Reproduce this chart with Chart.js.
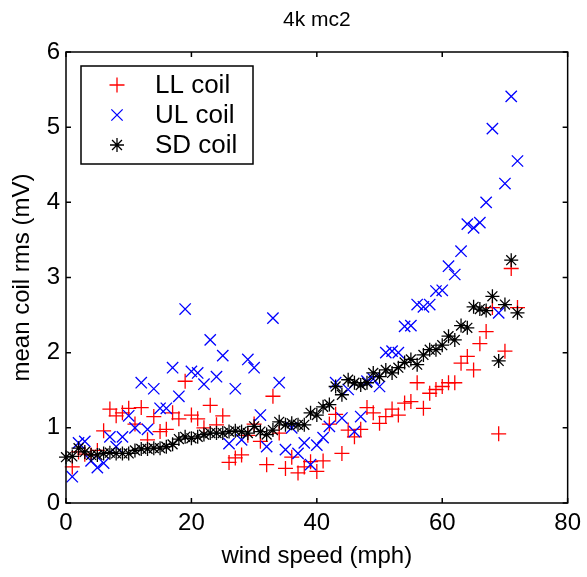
<!DOCTYPE html>
<html>
<head>
<meta charset="utf-8">
<script src="https://cdn.jsdelivr.net/npm/chart.js@4.4.1/dist/chart.umd.min.js"></script>
<style>
  html, body { margin: 0; padding: 0; background: #fff; }
  #wrap { width: 587px; height: 577px; }
</style>
</head>
<body>
<div id="wrap"><canvas id="coilChart" width="587" height="577"></canvas></div>
<script>
// wind speed bins (mph)
const speedsSD = Array.from({ length: 73 }, (_, i) => i);       // 0 .. 72
const speedsCoil = Array.from({ length: 72 }, (_, i) => i + 1); // 1 .. 72

// mean coil rms (mV)
const llCoil = [0.48, 0.68, 0.65, 0.64, 0.70, 0.96, 1.25, 1.16, 1.20, 1.26,
                1.05, 1.27, 0.84, 1.15, 0.95, 0.98, 1.20, 1.12, 1.62, 1.17,
                1.12, 1.00, 1.30, 1.04, 1.16, 0.54, 0.60, 0.64, 0.90, 1.05,
                0.82, 0.51, 1.42, 0.93, 0.46, 0.61, 0.40, 0.48, 0.55, 0.42,
                0.56, 1.05, 1.18, 0.66, 0.97, 0.88, 0.98, 1.27, 1.20, 1.06,
                1.15, 1.25, 1.17, 1.33, 1.35, 1.60, 1.26, 1.46, 1.51, 1.55,
                1.60, 1.60, 1.86, 1.95, 1.77, 2.12, 2.28, 2.60, 0.92, 2.02,
                3.12, 2.60];
const ulCoil = [0.35, 0.80, 0.82, 0.56, 0.47, 0.53, 0.88, 0.75, 0.88, 1.16,
                1.00, 1.60, 0.98, 1.52, 1.26, 1.26, 1.80, 1.42, 2.58, 1.75,
                1.73, 1.58, 2.17, 1.68, 1.96, 0.79, 1.52, 0.84, 1.91, 1.80,
                1.17, 0.75, 2.46, 1.60, 0.71, 1.00, 0.66, 0.80, 0.51, 0.77,
                0.87, 1.02, 1.60, 1.13, 1.51, 0.95, 1.15, 1.62, 1.65, 1.55,
                2.00, 2.02, 2.00, 2.35, 2.36, 2.64, 2.61, 2.64, 2.82, 2.83,
                3.15, 3.04, 3.35, 3.71, 3.66, 3.73, 4.00, 4.98, 2.53, 4.25,
                5.41, 4.55];
const sdCoil = [0.61, 0.62, 0.73, 0.68, 0.64, 0.64, 0.66, 0.67, 0.66, 0.66,
                0.66, 0.70, 0.72, 0.72, 0.73, 0.73, 0.75, 0.78, 0.85, 0.88,
                0.86, 0.88, 0.91, 0.93, 0.93, 0.93, 0.95, 0.96, 0.95, 0.93,
                1.02, 0.95, 0.91, 0.97, 1.08, 1.04, 1.06, 1.04, 1.04, 1.20,
                1.17, 1.28, 1.31, 1.55, 1.44, 1.64, 1.60, 1.57, 1.60, 1.73,
                1.68, 1.77, 1.73, 1.80, 1.87, 1.91, 1.84, 1.97, 2.04, 2.04,
                2.10, 2.22, 2.17, 2.36, 2.33, 2.61, 2.58, 2.56, 2.75, 1.89,
                2.64, 3.23, 2.53];

const xTicks = [0, 20, 40, 60, 80];
const yTicks = [0, 1, 2, 3, 4, 5, 6];
const chartTitle = '4k mc2';

const FONT = "'Liberation Sans', Arial, Helvetica, sans-serif";

function pairs(xs, ys) {
    return ys.map((y, i) => ({ x: xs[i], y: y }));
}

// MATLAB style box with inward ticks on all four sides, title centred over the axes
const boxPlugin = {
    id: 'matlabBox',
    afterDatasetsDraw(chart) {
        const { ctx, chartArea: a, scales } = chart;
        const len = 5;
        ctx.save();
        ctx.strokeStyle = '#000';
        ctx.lineWidth = 1.5;
        ctx.strokeRect(a.left, a.top, a.right - a.left, a.bottom - a.top);
        ctx.beginPath();
        xTicks.forEach(v => {
            const px = scales.x.getPixelForValue(v);
            ctx.moveTo(px, a.bottom); ctx.lineTo(px, a.bottom - len);
            ctx.moveTo(px, a.top); ctx.lineTo(px, a.top + len);
        });
        yTicks.forEach(v => {
            const py = scales.y.getPixelForValue(v);
            ctx.moveTo(a.left, py); ctx.lineTo(a.left + len, py);
            ctx.moveTo(a.right, py); ctx.lineTo(a.right - len, py);
        });
        ctx.stroke();

        ctx.fillStyle = '#000';
        ctx.font = '21px ' + FONT;
        ctx.textAlign = 'center';
        ctx.textBaseline = 'middle';
        ctx.fillText(chartTitle, (a.left + a.right) / 2, 20);
        ctx.restore();
    }
};

// legend inside the axes, top left, with a frame
const boxLegend = {
    id: 'boxLegend',
    afterDraw(chart) {
        const { ctx, chartArea: a } = chart;
        const x0 = a.left + 15, y0 = a.top + 14, w = 172, h = 98;
        ctx.save();
        ctx.fillStyle = '#fff';
        ctx.fillRect(x0, y0, w, h);
        ctx.strokeStyle = '#000';
        ctx.lineWidth = 1.5;
        ctx.strokeRect(x0, y0, w, h);
        ctx.font = '26px ' + FONT;
        ctx.textBaseline = 'middle';
        ctx.textAlign = 'left';
        chart.data.datasets.forEach((ds, i) => {
            const cy = y0 + 19 + i * 30;
            ctx.strokeStyle = ds.borderColor;
            ctx.fillStyle = ds.borderColor;
            ctx.lineWidth = ds.borderWidth;
            Chart.helpers.drawPoint(ctx, { pointStyle: ds.pointStyle, radius: ds.pointRadius, rotation: 0, borderWidth: ds.borderWidth }, x0 + 36, cy);
            ctx.fillStyle = '#000';
            ctx.fillText(ds.label, x0 + 74, cy + 1);
        });
        ctx.restore();
    }
};

const ctx = document.getElementById('coilChart').getContext('2d');
const coilChart = new Chart(ctx, {
    type: 'scatter',
    data: {
        datasets: [{
            label: 'LL coil',
            data: pairs(speedsCoil, llCoil),
            pointStyle: 'cross',
            pointRadius: 7.5,
            borderColor: 'rgb(255,0,0)',
            backgroundColor: 'rgb(255,0,0)',
            borderWidth: 1.3,
            order: 3
        }, {
            label: 'UL coil',
            data: pairs(speedsCoil, ulCoil),
            pointStyle: 'crossRot',
            pointRadius: 8,
            borderColor: 'rgb(0,0,255)',
            backgroundColor: 'rgb(0,0,255)',
            borderWidth: 1.3,
            order: 2
        }, {
            label: 'SD coil',
            data: pairs(speedsSD, sdCoil),
            pointStyle: 'star',
            pointRadius: 7,
            borderColor: '#000',
            backgroundColor: '#000',
            borderWidth: 1.3,
            order: 1
        }]
    },
    options: {
        responsive: false,
        animation: false,
        clip: false,
        layout: { padding: { left: 0, right: 19, top: 52, bottom: 0 } },
        elements: { point: { hoverRadius: 8 } },
        scales: {
            x: {
                type: 'linear',
                min: 0,
                max: 80,
                afterBuildTicks: s => { s.ticks = xTicks.map(v => ({ value: v })); },
                afterFit: s => { s.height = 74; },
                grid: { display: false, drawTicks: false },
                border: { display: false },
                ticks: { color: '#000', padding: 6, font: { family: FONT, size: 24 } },
                title: {
                    display: true,
                    text: 'wind speed (mph)',
                    color: '#000',
                    font: { family: FONT, size: 24 },
                    padding: { top: 0, bottom: 6 }
                }
            },
            y: {
                type: 'linear',
                min: 0,
                max: 6,
                afterBuildTicks: s => { s.ticks = yTicks.map(v => ({ value: v })); },
                afterFit: s => { s.width = 66; },
                grid: { display: false, drawTicks: false },
                border: { display: false },
                ticks: { color: '#000', padding: 6, font: { family: FONT, size: 24 } },
                title: {
                    display: true,
                    text: 'mean coil rms (mV)',
                    color: '#000',
                    font: { family: FONT, size: 24 },
                    padding: { top: 8, bottom: 0 }
                }
            }
        },
        plugins: {
            legend: { display: false },
            tooltip: { enabled: false },
            title: { display: false }
        }
    },
    plugins: [boxPlugin, boxLegend]
});
</script>
</body>
</html>
